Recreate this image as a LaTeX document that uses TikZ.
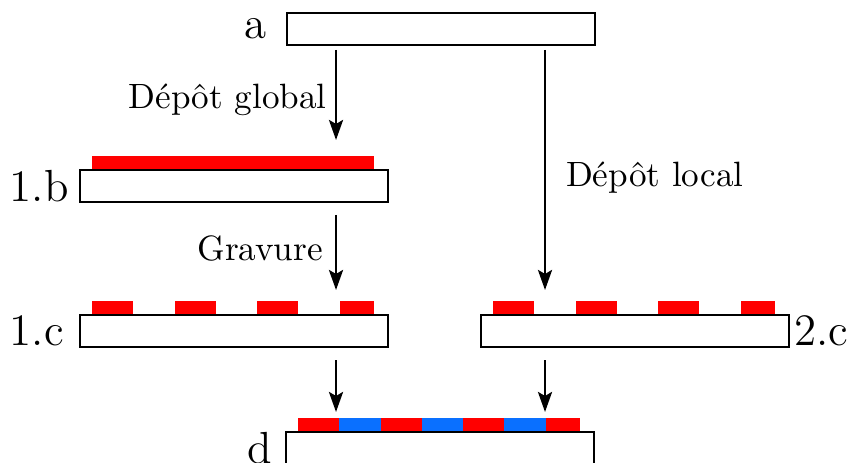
\documentclass[tikz,border=0pt]{standalone}
\usepackage{xcolor}
\usepackage{tikz}
\usetikzlibrary{positioning}
\usetikzlibrary{arrows.meta}
\tikzset{
	sub/.style={ % substrat
			draw,
			rectangle,
			minimum width=3.08cm,
			minimum height=0.32cm,
			inner sep=0pt
		},
	lbl/.style={inner sep=0pt, font=\fontsize{12.8}{15}\selectfont}, % etiquettes des etapes
	arr/.style={-{Stealth[length=2mm, width=1.4mm, inset=0.4mm]}, thick}
}
\definecolor{LayerRed}{HTML}{FF0000}
\definecolor{LayerBlue}{HTML}{0A70FF}

\begin{document}
\begin{tikzpicture}
			\useasboundingbox (0,0) rectangle (8.5,4.62);

			% Substrats
			\node (a) [sub] at (4.41,4.33) {};
			\node (b1) [sub] at (2.34,2.76) {};
			\node (c1) [sub] at (2.34,1.31) {};
			\node (c2) [sub] at (6.35,1.31) {};
			\node (d) [sub] at (4.40,0.14) {};

			% Etiquettes
			\node (la) [lbl, left=1.9mm of a] {a};
			\node (lb1) [lbl, left=1mm of b1] {1.b};
			\node (lc1) [lbl, left=1.5mm of c1] {1.c};
			\node (lc2) [lbl, right=0.4mm of c2] {2.c};
			\node (ld) [lbl, left=1.3mm of d] {d};

			% Couches
			\fill[LayerRed] ([xshift=0.13cm]b1.north west) rectangle +(2.82,0.13);
			\fill[LayerBlue] ([xshift=0.13cm]d.north west) rectangle +(2.82,0.13);
			\foreach \s in {c1, c2, d} {
				\foreach \x in {0.13, 0.955, 1.78}
					\fill[LayerRed] ([xshift=\x cm]\s.north west) rectangle +(0.41,0.13);
				\fill[LayerRed] ([xshift=2.605cm]\s.north west) rectangle +(0.345,0.13);
			}

			% Fleches
			\coordinate (g1) at (3.36,4.12);
			\coordinate (g2) at (3.36,3.22);
			\coordinate (g3) at (3.36,2.47);
			\coordinate (g4) at (3.36,1.72);
			\coordinate (g5) at (3.36,1.02);
			\coordinate (g6) at (3.36,0.50);
			\coordinate (l1) at (5.45,4.12);
			\coordinate (l2) at (5.45,1.72);
			\coordinate (l3) at (5.45,1.02);
			\coordinate (l4) at (5.45,0.50);

			\path[arr] (g1) edge node[left, pos=0.556, inner sep=0.8mm] {Dépôt global} (g2);
			\path[arr] (g3) edge node[left, pos=0.44] {Gravure} (g4);
			\path[arr] (g5) edge (g6);
			\path[arr] (l1) edge node[right, pos=0.533, xshift=0.8mm] {Dépôt local} (l2);
			\path[arr] (l3) edge (l4);

		\end{tikzpicture}
\end{document}
